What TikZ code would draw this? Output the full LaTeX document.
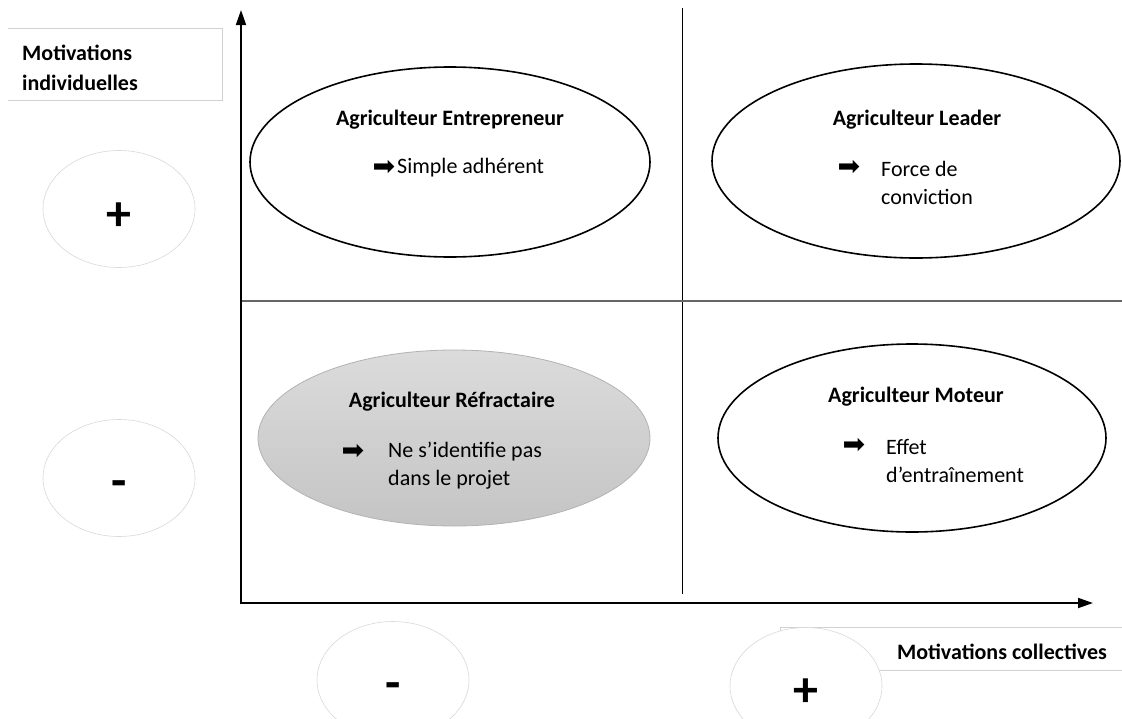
\documentclass[tikz,border=0pt]{standalone}
\usepackage{fontspec}
\setmainfont{Carlito}
\newfontfamily\symfont{DejaVu Sans}
\usetikzlibrary{shapes.geometric,arrows.meta}
\begin{document}
\begin{tikzpicture}[x=1pt,y=-1pt,
  quad/.style={ellipse, draw=black, line width=1.6pt, inner sep=0pt},
  sign/.style={ellipse, draw=black!15, line width=0.6pt, fill=white, minimum width=152pt, minimum height=117pt, inner sep=0pt},
  signtxt/.style={font=\fontsize{50}{50}\bfseries\selectfont, inner sep=0pt},
  title/.style={font=\fontsize{22}{26}\bfseries\selectfont, inner sep=0pt},
  body/.style={font=\fontsize{22}{28}\selectfont, align=left, inner sep=0pt, anchor=west},
  pointer/.style={font=\symfont\fontsize{27}{27}\selectfont, inner sep=0pt},
  lbl/.style={font=\fontsize{22}{30}\bfseries\selectfont, align=left, inner sep=0pt},
  axis/.style={line width=1.8pt, {Triangle[length=15pt,width=10pt]}-{Triangle[length=15pt,width=10pt]}},
  divider/.style={line width=1pt},
  hdivider/.style={line width=1.6pt, draw=black!60},
  labelbox/.style={draw=black!18, line width=0.8pt}
]
\path[use as bounding box] (0,0) rectangle (1122,718);
\clip (0,0) rectangle (1122,718);
\fill[white] (0,0) rectangle (1122,718);

% axes and dividers
\coordinate (O) at (241,603);
\coordinate (ytop) at (241,10);
\coordinate (xend) at (1093,603);
\coordinate (vtop) at (682,8);
\coordinate (vbot) at (682,594);
\coordinate (hl) at (241,301);
\coordinate (hr) at (1122,301);
\draw[divider] (vtop) -- (vbot);
\draw[hdivider] (hl) -- (hr);
\draw[axis] (ytop) -- (O) -- (xend);

% quadrant ellipses
\node[quad, minimum width=400pt, minimum height=190pt] (entre) at (450,162) {};
\node[quad, minimum width=408pt, minimum height=194pt] (leader) at (916,161) {};
\node[ellipse, draw=black!30, line width=0.8pt, top color=black!14, bottom color=black!23, minimum width=392pt, minimum height=176pt, inner sep=0pt] (refr) at (454,438) {};
\node[quad, minimum width=388pt, minimum height=188pt] (moteur) at (912,438) {};

% Entrepreneur
\node[title] (entreT) at (450,120) {Agriculteur Entrepreneur};
\node[pointer] (entreA) at (384,168) {➡};
\node[body] (entreB) at (397,168) {Simple adhérent};

% Leader
\node[title] (leaderT) at (917,120) {Agriculteur Leader};
\node[pointer] (leaderA) at (849,168) {➡};
\node[body] (leaderB) at (881,182.5) {Force de\\conviction};

% Refractaire
\node[title] (refrT) at (452,402) {Agriculteur Réfractaire};
\node[pointer] (refrA) at (353,452) {➡};
\node[body] (refrB) at (388,466) {Ne s’identifie pas\\dans le projet};

% Moteur
\node[title] (moteurT) at (916,397) {Agriculteur Moteur};
\node[pointer] (moteurA) at (854,446) {➡};
\node[body] (moteurB) at (886,461) {Effet\\d’entraînement};

% axis labels
\draw[labelbox] (8,28) -| (222,100) -- (8,100);
\node[lbl, anchor=west] (indiv) at (22,68) {Motivations\\individuelles};

\draw[labelbox] (780,627) rectangle (1130,670);

% sign ellipses
\node[sign] (lp) at (119,209) {};
\node[signtxt] (lpT) at (119,217) {+};
\node[sign] (lm) at (119,478) {};
\node[signtxt] (lmT) at (119,489) {-};
\node[sign] (bm) at (393,680) {};
\node[signtxt] (bmT) at (393,691) {-};
\node[sign] (bp) at (806,686) {};
\node[signtxt] (bpT) at (806,693) {+};

\node[lbl] (coll) at (1002,652) {Motivations collectives};
\end{tikzpicture}
\end{document}
